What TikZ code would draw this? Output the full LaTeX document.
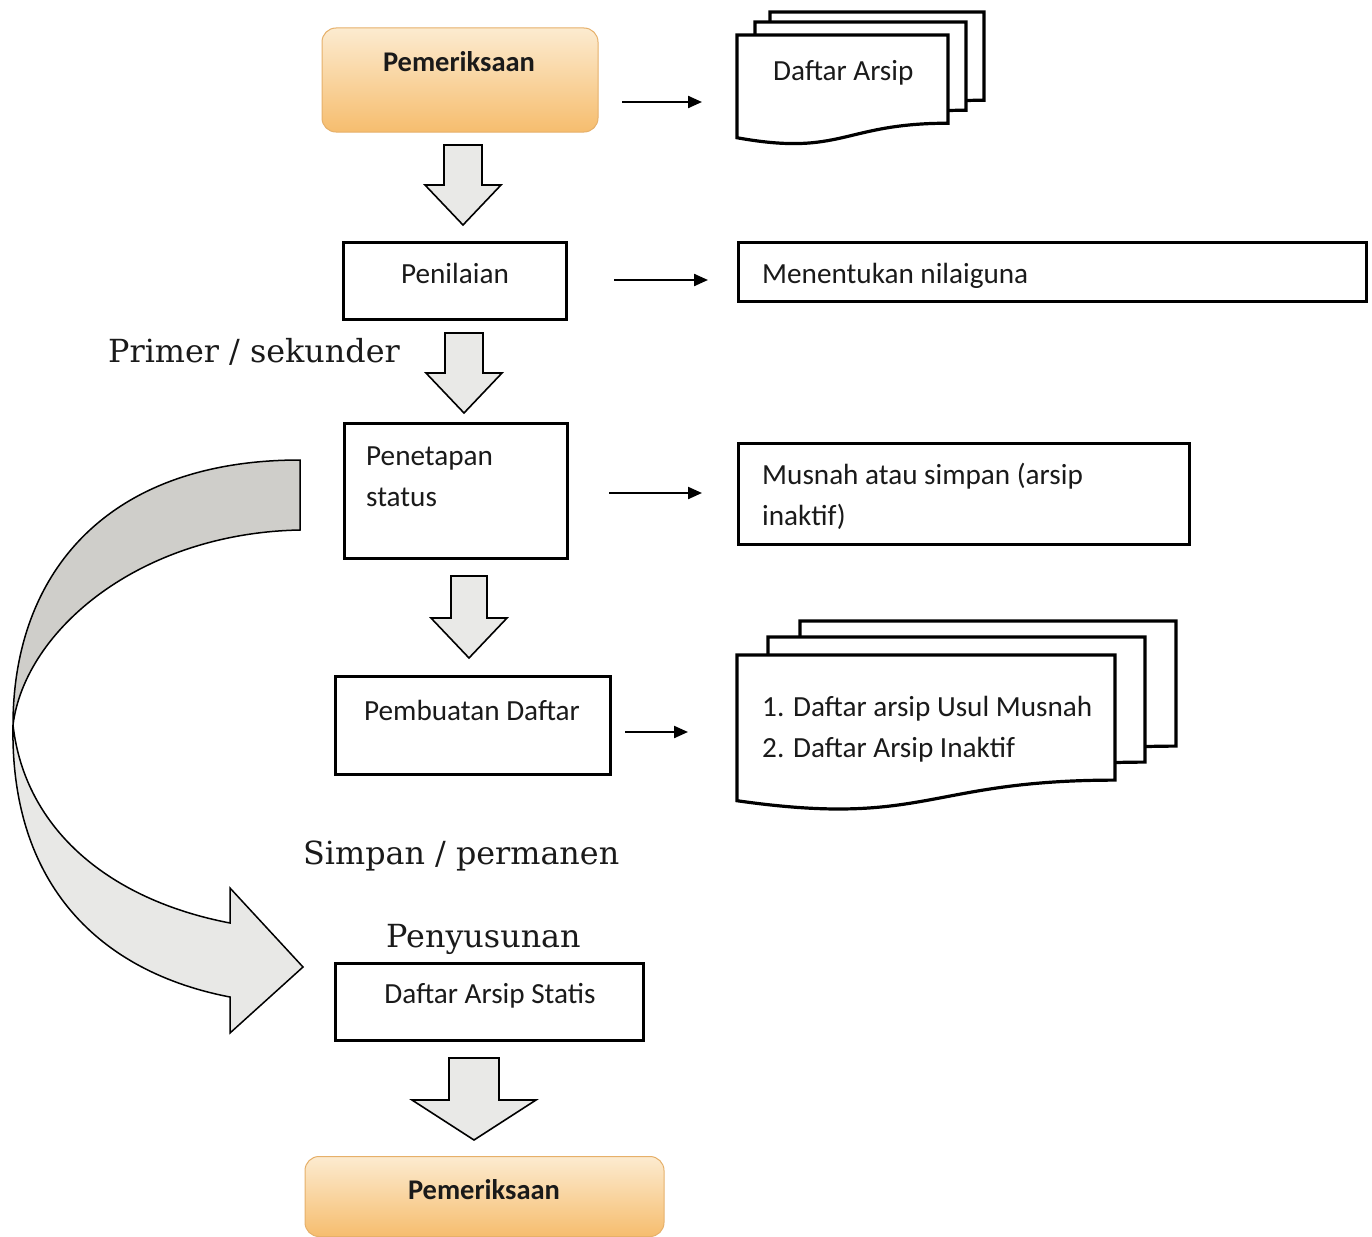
\documentclass[tikz,border=0pt]{standalone}
\usepackage{fontspec}
\setmainfont{Carlito}
\newfontfamily\serifl{DejaVu Serif}
\usetikzlibrary{arrows.meta}
\definecolor{oTop}{HTML}{FCEBD0}
\definecolor{oBot}{HTML}{F6BD6E}
\definecolor{oBorder}{HTML}{E6B06A}
\definecolor{blockgray}{HTML}{E9E9E7}
\definecolor{curvedark}{HTML}{CFCECA}
\definecolor{curvelight}{HTML}{E8E8E6}
\definecolor{ink}{HTML}{1A1A1A}
\newcommand{\docshape}[4]{%
  \draw[docpage] (#1,#3) -- (#2,#3) -- (#2,{#3+0.802*#4})
    .. controls ({(#1+#2)/2},{#3+0.802*#4}) and ({(#1+#2)/2},{#3+1.107*#4}) .. (#1,{#3+0.934*#4}) -- cycle;}
% cx, shaft top, shaft halfwidth, head base, head halfwidth, tip
\newcommand{\blockdown}[6]{%
  \draw[blockfill] ({#1-#3},#2) -- ({#1+#3},#2) -- ({#1+#3},#4) -- ({#1+#5},#4) -- (#1,#6)
    -- ({#1-#5},#4) -- ({#1-#3},#4) -- cycle;}
\begin{document}
\begin{tikzpicture}[x=1pt,y=-1pt,
  txt/.style={inner sep=0pt, font=\fontsize{29.2}{35}\selectfont, text=ink},
  boldtxt/.style={inner sep=0pt, font=\bfseries\fontsize{28.5}{34}\selectfont, text=ink},
  sertxt/.style={inner sep=0pt, font=\serifl\fontsize{31.8}{38}\selectfont, text=ink},
  plainbox/.style={draw=black, line width=3.6pt, fill=white, inner sep=0pt},
  orangebox/.style={draw=oBorder, line width=1pt, rounded corners=14pt, top color=oTop, bottom color=oBot, inner sep=0pt},
  thinarrow/.style={draw=black, line width=2.2pt, -{Triangle[length=14pt,width=12pt]}},
  blockfill/.style={fill=blockgray, draw=black, line width=1.6pt, line join=miter},
  docpage/.style={fill=white, draw=black, line width=3.2pt, line join=miter},
  curveline/.style={draw=black, line width=1.5pt, line join=miter},
]
\useasboundingbox (0,0) rectangle (1372,1236);
\fill[white] (0,0) rectangle (1372,1236);

% ---- curved arrow (left) ----
\fill[curvedark] (300,460) .. controls (105,460) and (13,575) .. (13,725)
  .. controls (25,630) and (140,533) .. (300,530) -- cycle;
\fill[curvelight] (13,725) .. controls (10,885) and (100,972) .. (230,997)
  -- (230,1033) -- (303,967) -- (230,888) -- (230,923)
  .. controls (110,900) and (25,830) .. (13,725) -- cycle;
\draw[curveline] (300,460) .. controls (105,460) and (13,575) .. (13,725)
  .. controls (10,885) and (100,972) .. (230,997)
  -- (230,1033) -- (303,967) -- (230,888) -- (230,923)
  .. controls (110,900) and (25,830) .. (13,725)
  .. controls (25,630) and (140,533) .. (300,530) -- cycle;

% ---- boxes ----
\node[orangebox, minimum width=276pt, minimum height=104pt] (pem1) at (460,80) {};
\node[boldtxt, anchor=base] (tpem1) at (459,72) {Pemeriksaan};

\node[plainbox, minimum width=223pt, minimum height=77pt] (pen) at (455,281) {};
\node[txt, anchor=base] (tpen) at (455,283) {Penilaian};

\node[plainbox, minimum width=628pt, minimum height=59pt] (men) at (1052.5,272) {};
\node[txt, anchor=base west] (tmen) at (762,283) {Menentukan nilaiguna};

\node[plainbox, minimum width=223pt, minimum height=135pt] (pts) at (456,491) {};
\node[txt, anchor=base west] (tpts1) at (366,465) {Penetapan};
\node[txt, anchor=base west] (tpts2) at (366,506) {status};

\node[plainbox, minimum width=451pt, minimum height=101pt] (mus) at (964,494) {};
\node[txt, anchor=base west] (tmus1) at (762,484) {Musnah atau simpan (arsip};
\node[txt, anchor=base west] (tmus2) at (762,525) {inaktif)};

\node[plainbox, minimum width=275pt, minimum height=98pt] (pbd) at (473,725.5) {};
\node[txt, anchor=base] (tpbd) at (472,720) {Pembuatan Daftar};

\node[plainbox, minimum width=308pt, minimum height=77pt] (das) at (489.5,1002) {};
\node[txt, anchor=base] (tdas) at (490,1003) {Daftar Arsip Statis};

\node[orangebox, minimum width=359pt, minimum height=80pt] (pem2) at (484.5,1196.5) {};
\node[boldtxt, anchor=base] (tpem2) at (484,1199) {Pemeriksaan};

% ---- documents ----
\docshape{770}{984}{12}{110}
\docshape{755}{966}{22}{110}
\docshape{737}{948}{35}{110}
\node[txt, anchor=base west] (tda) at (773,81) {Daftar Arsip};

\docshape{800}{1176}{621}{156}
\docshape{768}{1145}{637}{156}
\docshape{737}{1115}{655}{156}
\node[txt, anchor=base west] (tdl1) at (762,716) {1. Daftar arsip Usul Musnah};
\node[txt, anchor=base west] (tdl2) at (762,757) {2. Daftar Arsip Inaktif};

% ---- serif labels ----
\node[sertxt, anchor=base west] (lprim) at (108,362) {Primer / sekunder};
\node[sertxt, anchor=base west] (lsimp) at (303,864) {Simpan / permanen};
\node[sertxt, anchor=base west] (lpeny) at (386,947) {Penyusunan};

% ---- thin arrows ----
\coordinate (a1s) at (622,102); \coordinate (a1e) at (702,102);
\coordinate (a2s) at (614,280); \coordinate (a2e) at (708,280);
\coordinate (a3s) at (609,493); \coordinate (a3e) at (702,493);
\coordinate (a4s) at (625,732); \coordinate (a4e) at (688,732);
\draw[thinarrow] (a1s) -- (a1e);
\draw[thinarrow] (a2s) -- (a2e);
\draw[thinarrow] (a3s) -- (a3e);
\draw[thinarrow] (a4s) -- (a4e);

% ---- block arrows ----
\blockdown{463}{145}{19}{185}{38}{225}
\blockdown{464}{333}{19}{373}{38}{413}
\blockdown{469}{576}{18}{618}{38}{658}
\blockdown{474}{1058}{25}{1100}{62}{1140}
\end{tikzpicture}
\end{document}
